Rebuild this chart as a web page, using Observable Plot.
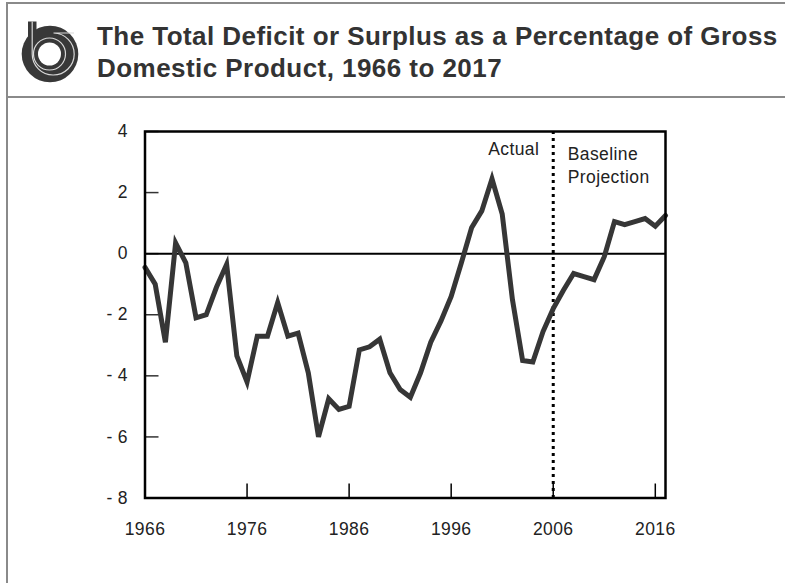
<!DOCTYPE html>
<html>
<head>
<meta charset="utf-8">
<script src="https://cdn.jsdelivr.net/npm/d3@7"></script>
<script src="https://cdn.jsdelivr.net/npm/@observablehq/plot@0.6"></script>
<style>
  html, body { margin: 0; padding: 0; background: #fff; }
  body { width: 785px; height: 583px; position: relative; overflow: hidden; font-family: "Liberation Sans", Arial, sans-serif; }
  .bl { position: absolute; background: #8a8a8a; }
  #title { position: absolute; left: 97px; top: 21px; font-weight: bold; font-size: 26px; letter-spacing: 0.45px; line-height: 31.7px; color: #333; white-space: nowrap; }
  #logo { position: absolute; left: 0; top: 0; }
  #chart { position: absolute; left: 0; top: 100px; }
  #chart svg text { font-size: 17.5px; fill: #222; letter-spacing: 0.4px; }
</style>
</head>
<body>
<div class="bl" style="left:6px;top:2px;width:779px;height:2px"></div>
<div class="bl" style="left:6px;top:2px;width:2px;height:581px"></div>
<div class="bl" style="left:6px;top:96px;width:779px;height:2px"></div>
<svg id="logo" width="100" height="96">
  <rect x="28" y="21.5" width="8.5" height="34" fill="#383838"/>
  <circle cx="50" cy="54" r="28.3" fill="#383838"/>
  <circle cx="49.5" cy="54" r="11.5" fill="#fff"/>
  <circle cx="49.5" cy="54" r="16" fill="none" stroke="#d8d8d8" stroke-width="1.2"/>
  <path d="M32.2 21.5 V54 A21 21 0 1 0 53.5 33 H74" fill="none" stroke="#d8d8d8" stroke-width="1.2"/>
</svg>
<div id="title">The Total Deficit or Surplus as a Percentage of Gross<br>Domestic Product, 1966 to 2017</div>
<div id="chart"></div>
<script>
const years = [1966,1967,1968,1969,1970,1971,1972,1973,1974,1975,1976,1977,1978,1979,1980,1981,1982,1983,1984,1985,1986,1987,1988,1989,1990,1991,1992,1993,1994,1995,1996,1997,1998,1999,2000,2001,2002,2003,2004,2005,2006,2007,2008,2009,2010,2011,2012,2013,2014,2015,2016,2017];
const deficit = [-0.45,-1.0,-2.9,0.35,-0.3,-2.1,-2.0,-1.1,-0.35,-3.35,-4.2,-2.7,-2.7,-1.6,-2.7,-2.6,-3.9,-6.0,-4.75,-5.1,-5.0,-3.15,-3.05,-2.8,-3.9,-4.45,-4.7,-3.9,-2.9,-2.2,-1.4,-0.3,0.85,1.4,2.45,1.3,-1.5,-3.5,-3.55,-2.55,-1.8,-1.2,-0.65,-0.75,-0.85,-0.1,1.05,0.95,1.05,1.15,0.9,1.25];
const xTicks = [1966,1976,1986,1996,2006,2016];
const yTicks = [4,2,0,-2,-4,-6,-8];
const splitYear = 2006;
const labelActual = "Actual";
const labelProjection = "Baseline\nProjection";

const data = years.map((y, i) => ({year: y, value: deficit[i]}));

const W = 785, H = 483;
const mL = 144.5, mR = 120, mT = 31, mB = 85.5;
const innerW = W - mL - mR, innerH = H - mT - mB;

const chart = Plot.plot({
  width: W, height: H,
  marginLeft: mL, marginRight: mR, marginTop: mT, marginBottom: mB,
  style: {fontFamily: '"Liberation Sans", Arial, sans-serif', fontSize: "17.5px", color: "#222", background: "transparent"},
  x: {domain: [1966, 2017]},
  y: {domain: [-8, 4]},
  marks: [
    Plot.axisX(xTicks, {tickSize: 0, tickPadding: 25, tickFormat: d => String(d), fontSize: 17.5, fill: "#222", label: null}),
    Plot.axisY(yTicks, {tickSize: 0, tickPadding: 17, tickFormat: d => d < 0 ? "- " + Math.abs(d) : String(d), fontSize: 17.5, fill: "#222", label: null}),
    Plot.tickX(xTicks, {x: d => d, stroke: "#000", strokeWidth: 1.5, insetTop: innerH - 14}),
    Plot.tickY(yTicks, {y: d => d, stroke: "#333", strokeWidth: 1.5, insetRight: innerW - 14}),
    Plot.ruleY([0], {stroke: "#000", strokeWidth: 2}),
    Plot.ruleX([splitYear], {stroke: "#000", strokeWidth: 3, strokeDasharray: "3,4"}),
    Plot.line(data, {x: "year", y: "value", stroke: "#363636", strokeWidth: 5, strokeLinejoin: "miter", strokeMiterlimit: 4}),
    Plot.frame({stroke: "#000", strokeWidth: 2.5}),
    Plot.text([labelActual], {x: () => splitYear, frameAnchor: "top", lineAnchor: "top", dy: 11, dx: -14, textAnchor: "end", fontSize: 17.5, fill: "#222"}),
    Plot.text([labelProjection], {x: () => splitYear, frameAnchor: "top", lineAnchor: "top", dy: 11, dx: 14.5, textAnchor: "start", lineHeight: 1.37, fontSize: 17.5, fill: "#222"})
  ]
});
document.getElementById("chart").appendChild(chart);
</script>
</body>
</html>
